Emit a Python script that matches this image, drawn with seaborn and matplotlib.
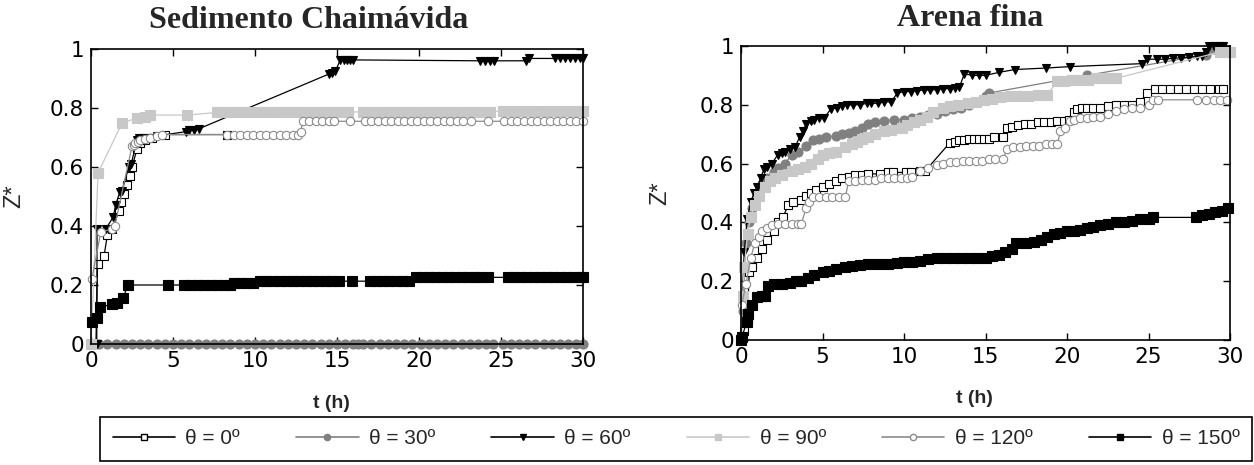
import matplotlib
matplotlib.use("Agg")
import matplotlib.pyplot as plt
from matplotlib.lines import Line2D
import seaborn as sns

# ---- Sedimento Chaimávida (left panel) ----
t0_L = [0.3, 0.4, 0.8, 1.0, 1.3, 1.7, 1.8, 2.0, 2.2, 2.4, 2.5, 2.8, 3.0, 3.3, 3.7, 4.5, 8.3]
z0_L = [0.0, 0.27, 0.30, 0.37, 0.39, 0.45, 0.48, 0.51, 0.54, 0.57, 0.60, 0.66, 0.68, 0.69, 0.70, 0.71, 0.71]

t30_L = [0.0, 0.5, 1.0, 1.5, 2.0, 2.5, 3.0, 3.5, 4.0, 4.5, 5.0, 5.5, 6.0, 6.5, 7.0, 7.5, 8.0, 8.5,
         9.0, 9.5, 10.0, 10.5, 11.0, 11.5, 12.0, 12.5, 13.0, 13.5, 14.0, 14.5, 15.0, 15.5, 16.0, 16.3,
         16.6, 17.1, 17.6, 18.1, 18.6, 19.1, 19.6, 20.1, 20.6, 21.1, 21.6, 22.1, 22.6, 23.1, 23.6, 24.1, 24.5,
         25.1, 25.6, 26.1, 26.6, 27.1, 27.6, 28.1, 28.6, 29.1, 29.6, 30.0]
z30_L = [0.0, 0.0, 0.0, 0.0, 0.0, 0.0, 0.0, 0.0, 0.0, 0.0, 0.0, 0.0, 0.0, 0.0, 0.0, 0.0, 0.0, 0.0,
         0.0, 0.0, 0.0, 0.0, 0.0, 0.0, 0.0, 0.0, 0.0, 0.0, 0.0, 0.0, 0.0, 0.0, 0.0, 0.0,
         0.0, 0.0, 0.0, 0.0, 0.0, 0.0, 0.0, 0.0, 0.0, 0.0, 0.0, 0.0, 0.0, 0.0, 0.0, 0.0, 0.0,
         0.0, 0.0, 0.0, 0.0, 0.0, 0.0, 0.0, 0.0, 0.0, 0.0, 0.0]

t60_L = [0.35, 0.37, 0.9, 1.35, 1.5, 1.75, 1.9, 2.3, 2.45, 2.8, 2.9, 3.1, 3.4, 3.7, 4.0, 5.8, 6.0, 6.3, 6.6,
         14.5, 14.7, 14.9, 15.2, 15.4, 15.6, 15.8, 16.0, 23.7, 24.0, 24.3, 24.6, 26.5, 26.7,
         28.3, 28.6, 28.9, 29.2, 29.5, 29.8, 30.0]
z60_L = [0.0, 0.39, 0.39, 0.43, 0.47, 0.515, 0.52, 0.60, 0.61, 0.69, 0.70, 0.70, 0.70, 0.70, 0.705, 0.72, 0.725, 0.725, 0.73,
         0.915, 0.918, 0.925, 0.963, 0.963, 0.963, 0.963, 0.963, 0.96, 0.96, 0.96, 0.96, 0.96, 0.968,
         0.968, 0.968, 0.968, 0.968, 0.968, 0.968, 0.968]

t90_L = [0.0, 0.43, 1.9, 2.8, 3.3, 3.6, 5.85, 7.7, 8.2, 8.7, 9.2, 9.7, 10.2, 10.7, 11.2, 11.7, 12.2, 12.7,
         13.2, 13.7, 14.2, 14.7, 15.2, 15.7, 16.6, 17.1, 17.6, 18.1, 18.6, 19.1, 19.6, 20.1, 20.6, 21.1,
         21.6, 22.1, 22.6, 23.1, 23.6, 24.1, 24.3, 25.1, 25.6, 26.1, 26.6, 27.1, 27.6, 28.1, 28.6, 29.1, 29.6, 30.0]
z90_L = [0.0, 0.58, 0.75, 0.765, 0.77, 0.776, 0.776, 0.785, 0.785, 0.785, 0.785, 0.785, 0.785, 0.785, 0.785,
         0.785, 0.785, 0.785, 0.785, 0.785, 0.785, 0.785, 0.785, 0.785, 0.788, 0.788, 0.788, 0.788, 0.788,
         0.788, 0.788, 0.788, 0.788, 0.788, 0.788, 0.788, 0.788, 0.788, 0.788, 0.788, 0.788, 0.79, 0.79,
         0.79, 0.79, 0.79, 0.79, 0.79, 0.79, 0.79, 0.79, 0.79]

t120_L = [0.05, 0.6, 1.3, 1.45, 2.5, 2.6, 2.7, 2.85, 3.0, 3.3, 3.6, 4.0, 4.3, 8.3, 8.7, 9.1, 9.5, 9.9,
          10.3, 10.7, 11.1, 11.5, 11.9, 12.3, 12.6, 12.8, 12.9, 13.3, 13.7, 14.1, 14.5, 14.8, 15.8,
          16.7, 17.1, 17.5, 17.9, 18.3, 18.7, 19.1, 19.5, 19.9, 20.3, 20.7, 21.1, 21.5, 21.9, 22.3, 22.7,
          23.2, 24.2, 25.2, 25.6, 26.0, 26.4, 26.8, 27.2, 27.6, 28.0, 28.4, 28.8, 29.2, 29.6, 30.0]
z120_L = [0.22, 0.38, 0.39, 0.40, 0.67, 0.675, 0.68, 0.685, 0.69, 0.695, 0.70, 0.705, 0.71, 0.71, 0.71, 0.71,
          0.71, 0.71, 0.71, 0.71, 0.71, 0.71, 0.71, 0.71, 0.71, 0.72, 0.755, 0.755, 0.755, 0.755, 0.755,
          0.755, 0.755, 0.755, 0.755, 0.755, 0.755, 0.755, 0.755, 0.755, 0.755, 0.755, 0.755, 0.755,
          0.755, 0.755, 0.755, 0.755, 0.755, 0.755, 0.755, 0.755, 0.755, 0.755, 0.755, 0.755, 0.755,
          0.755, 0.755, 0.755, 0.755, 0.755, 0.755, 0.755]

t150_L = [0.06, 0.37, 0.55, 1.3, 1.6, 1.95, 2.25, 4.7, 5.7, 6.1, 6.5, 6.9, 7.3, 7.7, 8.1, 8.5, 8.7,
          9.1, 9.5, 9.9, 10.3, 10.7, 11.1, 11.5, 11.9, 12.3, 12.7, 13.1, 13.5, 13.9, 14.3, 14.7, 15.1,
          15.9, 17.0, 17.4, 17.8, 18.2, 18.6, 19.0, 19.4, 19.8, 20.2, 20.6, 21.0, 21.4, 21.8, 22.2,
          22.6, 23.0, 23.4, 23.7, 24.2, 25.4, 25.8, 26.2, 26.6, 27.0, 27.4, 27.8, 28.2, 28.6, 29.0,
          29.4, 29.8, 30.0]
z150_L = [0.075, 0.088, 0.125, 0.135, 0.14, 0.155, 0.20, 0.20, 0.20, 0.20, 0.20, 0.20, 0.20, 0.20, 0.20,
          0.20, 0.207, 0.207, 0.207, 0.207, 0.213, 0.213, 0.213, 0.213, 0.213, 0.213, 0.213, 0.213,
          0.213, 0.213, 0.213, 0.213, 0.213, 0.213, 0.213, 0.213, 0.213, 0.213, 0.213, 0.213, 0.213,
          0.226, 0.226, 0.226, 0.226, 0.226, 0.226, 0.226, 0.226, 0.226, 0.226, 0.226, 0.226, 0.226,
          0.226, 0.226, 0.226, 0.226, 0.226, 0.226, 0.226, 0.226, 0.226, 0.226, 0.226, 0.226]

# ---- Arena fina (right panel) ----
t0_R = [0.0, 0.2, 0.4, 0.5, 0.7, 1.0, 1.3, 1.6, 2.0, 2.3, 2.6, 2.9, 3.2, 3.7, 4.0, 4.3, 4.6, 5.0, 5.4,
        5.8, 6.2, 6.6, 7.0, 7.4, 7.8, 8.5, 9.0, 9.3, 10.1, 10.4, 11.0, 11.3, 12.8, 13.1, 13.4, 13.7,
        14.0, 14.3, 14.6, 14.9, 15.2, 15.5, 16.1, 16.3, 16.6, 17.0, 17.4, 17.8, 18.2, 18.6, 19.0,
        19.4, 19.8, 20.1, 20.4, 20.6, 20.9, 21.2, 21.6, 22.0, 22.5, 23.0, 23.5, 24.0, 24.5, 24.9,
        25.4, 25.8, 26.3, 26.8, 27.3, 27.8, 28.3, 28.8, 29.3, 29.6]
z0_R = [0.0, 0.03, 0.07, 0.23, 0.25, 0.28, 0.31, 0.34, 0.37, 0.40, 0.42, 0.46, 0.47, 0.475, 0.49, 0.50,
        0.51, 0.52, 0.53, 0.54, 0.55, 0.555, 0.56, 0.56, 0.565, 0.565, 0.57, 0.57, 0.57, 0.57, 0.575,
        0.575, 0.67, 0.675, 0.68, 0.68, 0.685, 0.685, 0.685, 0.685, 0.685, 0.69, 0.69, 0.72, 0.725,
        0.73, 0.735, 0.735, 0.74, 0.74, 0.74, 0.745, 0.745, 0.75, 0.775, 0.785, 0.79, 0.79, 0.79,
        0.79, 0.795, 0.80, 0.80, 0.80, 0.81, 0.84, 0.855, 0.855, 0.855, 0.855, 0.855, 0.855, 0.855,
        0.855, 0.855, 0.855]

t30_R = [0.0, 0.1, 0.3, 0.5, 0.7, 1.0, 1.3, 1.6, 2.0, 2.3, 2.7, 3.1, 3.5, 4.0, 4.4, 4.8, 5.2, 5.8, 6.2,
         6.6, 7.0, 7.4, 7.8, 8.2, 8.8, 9.4, 10.0, 10.5, 11.0, 11.5, 12.0, 12.5, 13.0, 13.5, 14.0, 14.5,
         15.0, 15.2, 21.2, 28.5, 29.0, 29.5]
z30_R = [0.0, 0.10, 0.33, 0.40, 0.45, 0.50, 0.53, 0.55, 0.57, 0.585, 0.60, 0.63, 0.64, 0.66, 0.68,
         0.685, 0.69, 0.695, 0.70, 0.705, 0.71, 0.72, 0.735, 0.74, 0.745, 0.75, 0.75, 0.755, 0.76,
         0.765, 0.77, 0.78, 0.785, 0.79, 0.80, 0.81, 0.83, 0.84, 0.90, 0.97, 0.99, 0.995]

t60_R = [0.0, 0.05, 0.2, 0.37, 0.6, 0.8, 1.0, 1.2, 1.4, 1.6, 1.9, 2.25, 2.5, 2.7, 3.0, 3.3, 3.6, 3.8,
         4.0, 4.3, 4.5, 4.8, 5.1, 5.5, 5.9, 6.2, 6.5, 6.9, 7.3, 7.7, 8.0, 8.4, 8.8, 9.2, 9.6, 10.0,
         10.4, 10.8, 11.2, 11.6, 12.0, 12.4, 12.8, 13.1, 13.4, 13.7, 14.2, 14.6, 15.0, 15.8, 16.8,
         18.7, 20.2, 24.6, 24.9, 25.5, 26.0, 26.5, 27.0, 27.5, 28.0, 28.3, 28.5, 28.7, 29.0, 29.3, 29.6]
z60_R = [0.0, 0.11, 0.30, 0.41, 0.47, 0.50, 0.52, 0.55, 0.58, 0.59, 0.60, 0.63, 0.635, 0.64, 0.65,
         0.655, 0.69, 0.71, 0.735, 0.745, 0.75, 0.755, 0.755, 0.785, 0.79, 0.795, 0.80, 0.80, 0.80,
         0.805, 0.805, 0.805, 0.81, 0.81, 0.84, 0.845, 0.845, 0.848, 0.85, 0.85, 0.852, 0.855, 0.855,
         0.858, 0.86, 0.905, 0.90, 0.90, 0.90, 0.91, 0.92, 0.925, 0.93, 0.94, 0.955, 0.955, 0.955,
         0.958, 0.96, 0.962, 0.965, 0.967, 0.98, 1.0, 1.0, 1.0, 1.0]

t90_R = [0.0, 0.1, 0.2, 0.4, 0.6, 0.85, 1.1, 1.5, 1.8, 2.1, 2.5, 3.1, 3.5, 3.9, 4.3, 4.7, 5.0, 5.4, 5.8,
         6.4, 6.8, 7.1, 7.4, 7.8, 8.2, 8.8, 9.2, 9.9, 10.2, 10.6, 11.0, 11.4, 11.8, 12.4, 12.8, 13.3,
         13.9, 14.4, 14.9, 15.4, 15.9, 16.5, 17.0, 17.6, 18.2, 18.8, 19.4, 19.8, 20.3, 20.8, 21.3,
         21.8, 22.3, 22.7, 23.0, 29.4, 29.8, 30.0]
z90_R = [0.0, 0.15, 0.25, 0.36, 0.42, 0.46, 0.49, 0.52, 0.54, 0.55, 0.56, 0.575, 0.58, 0.59, 0.60,
         0.615, 0.63, 0.635, 0.64, 0.655, 0.665, 0.675, 0.685, 0.69, 0.70, 0.71, 0.715, 0.72, 0.73,
         0.74, 0.75, 0.76, 0.775, 0.79, 0.795, 0.80, 0.805, 0.81, 0.815, 0.82, 0.825, 0.83, 0.83,
         0.83, 0.835, 0.835, 0.88, 0.88, 0.885, 0.885, 0.885, 0.89, 0.89, 0.89, 0.89, 0.98, 0.98, 0.98]

t120_R = [0.0, 0.05, 0.3, 0.6, 0.85, 1.1, 1.3, 1.6, 1.9, 2.3, 2.7, 3.1, 3.5, 3.7, 4.0, 4.2, 4.4, 4.8,
          5.2, 5.6, 6.0, 6.4, 6.6, 7.0, 7.4, 7.8, 8.2, 8.6, 9.0, 9.4, 9.8, 10.2, 10.5, 11.0, 11.5,
          12.0, 12.4, 12.8, 13.2, 13.6, 14.0, 14.4, 14.8, 15.2, 15.6, 16.1, 16.3, 16.7, 17.1, 17.5,
          17.9, 18.3, 18.7, 19.1, 19.4, 19.6, 19.9, 20.2, 20.4, 20.8, 21.2, 21.6, 22.0, 22.5, 23.0,
          23.5, 24.0, 24.5, 25.0, 25.3, 25.6, 28.0, 28.5, 29.0, 29.4, 29.8]
z120_R = [0.0, 0.12, 0.19, 0.28, 0.33, 0.35, 0.37, 0.38, 0.39, 0.395, 0.395, 0.395, 0.395, 0.395,
          0.45, 0.47, 0.485, 0.485, 0.485, 0.485, 0.485, 0.485, 0.54, 0.54, 0.545, 0.545, 0.545,
          0.55, 0.55, 0.55, 0.55, 0.55, 0.555, 0.575, 0.585, 0.595, 0.60, 0.605, 0.605, 0.61, 0.61,
          0.61, 0.61, 0.615, 0.615, 0.615, 0.65, 0.655, 0.655, 0.66, 0.66, 0.66, 0.665, 0.665, 0.665,
          0.71, 0.72, 0.745, 0.75, 0.755, 0.755, 0.76, 0.76, 0.77, 0.78, 0.785, 0.79, 0.79, 0.80,
          0.815, 0.817, 0.817, 0.817, 0.817, 0.817, 0.817]

t150_R = [0.0, 0.05, 0.35, 0.45, 0.7, 1.0, 1.3, 1.5, 1.65, 2.0, 2.5, 3.0, 3.4, 3.7, 4.1, 4.5, 5.0, 5.4,
          5.8, 6.4, 6.8, 7.3, 7.8, 8.4, 9.0, 9.6, 10.0, 10.5, 11.0, 11.5, 12.0, 12.5, 13.0, 13.5, 14.0,
          14.5, 15.0, 15.4, 15.8, 16.2, 16.6, 16.9, 17.5, 18.0, 18.4, 18.8, 19.2, 19.6, 20.0, 20.4,
          20.8, 21.2, 21.6, 22.0, 22.5, 23.0, 23.5, 24.0, 24.5, 25.0, 25.3, 27.9, 28.3, 28.7, 29.1,
          29.5, 29.9]
z150_R = [0.0, 0.01, 0.06, 0.09, 0.12, 0.145, 0.15, 0.15, 0.185, 0.19, 0.19, 0.195, 0.20, 0.20, 0.21,
          0.22, 0.23, 0.235, 0.24, 0.25, 0.252, 0.255, 0.26, 0.26, 0.26, 0.263, 0.265, 0.265, 0.27,
          0.275, 0.28, 0.28, 0.28, 0.28, 0.28, 0.28, 0.28, 0.285, 0.29, 0.30, 0.31, 0.33, 0.33, 0.335,
          0.34, 0.35, 0.36, 0.365, 0.37, 0.37, 0.375, 0.38, 0.385, 0.39, 0.395, 0.40, 0.40, 0.405,
          0.41, 0.41, 0.417, 0.417, 0.425, 0.43, 0.435, 0.44, 0.45]

labels = ["θ = 0º", "θ = 30º", "θ = 60º", "θ = 90º", "θ = 120º", "θ = 150º"]
xticks = [0, 5, 10, 15, 20, 25, 30]
yticks = [0, 0.2, 0.4, 0.6, 0.8, 1]
ytick_labels = ["0", "0.2", "0.4", "0.6", "0.8", "1"]

# line colour, marker, face colour, edge colour, marker size
styles = [
    ("black",   "s", "white",   "black",   6.0),
    ("#808080", "o", "#808080", "#808080", 6.5),
    ("black",   "v", "black",   "black",   5.5),
    ("#c8c8c8", "s", "#c8c8c8", "#c8c8c8", 6.5),
    ("#8c8c8c", "o", "white",   "#8c8c8c", 6.0),
    ("black",   "s", "black",   "black",   7.0),
]

sns.set_style("ticks")
plt.rcParams['font.family'] = ['DejaVu Sans']

fig = plt.figure(figsize=(12.54, 4.65), dpi=100)
axL = fig.add_axes([91/1254, 1-344/465, 492/1254, 295/465])
axR = fig.add_axes([741/1254, 1-340/465, 489/1254, 294/465])

left_data = [(t0_L, z0_L), (t30_L, z30_L), (t60_L, z60_L), (t90_L, z90_L), (t120_L, z120_L), (t150_L, z150_L)]
right_data = [(t0_R, z0_R), (t30_R, z30_R), (t60_R, z60_R), (t90_R, z90_R), (t120_R, z120_R), (t150_R, z150_R)]

for ax, data in [(axL, left_data), (axR, right_data)]:
    for (t, z), (lc, mk, fc, ec, ms) in zip(data, styles):
        sns.lineplot(x=t, y=z, ax=ax, color=lc, marker=mk, markersize=ms,
                     markerfacecolor=fc, markeredgecolor=ec, markeredgewidth=0.8,
                     linewidth=0.9, estimator=None, sort=False, legend=False, clip_on=False)
    ax.set_xlim(0, 30)
    ax.set_ylim(0, 1)
    ax.set_xticks(xticks)
    ax.set_xticklabels([str(v) for v in xticks])
    ax.set_yticks(yticks)
    ax.set_yticklabels(ytick_labels)
    ax.tick_params(direction='in', top=True, right=True, length=5, width=1,
                   labelsize=15.5, colors='black', pad=5)
    for sp in ax.spines.values():
        sp.set_color('black')
        sp.set_linewidth(1.2)
    ax.set_xlabel("t (h)", fontsize=14, fontweight='bold', family='Liberation Sans')
    ax.set_ylabel("Z*", fontsize=17, family='Liberation Sans')

axL.xaxis.set_label_coords(0.488, -0.173)
axR.xaxis.set_label_coords(0.478, -0.17)
axL.yaxis.set_label_coords(-0.134, 0.5)
axR.yaxis.set_label_coords(-0.143, 0.5)

fig.text(309/1254, 1-21/465, "Sedimento Chaimávida", ha='center', va='center',
         fontsize=23, fontweight='bold', family='Liberation Serif')
fig.text(970/1254, 1-19/465, "Arena fina", ha='center', va='center',
         fontsize=23, fontweight='bold', family='Liberation Serif')

handles = [Line2D([], [], color=lc, marker=mk, markersize=4.5, markerfacecolor=fc,
                  markeredgecolor=ec, linewidth=1.2)
           for (lc, mk, fc, ec, ms) in styles]
leg = fig.legend(handles, labels, loc='upper left', ncol=6, mode='expand',
                 bbox_to_anchor=(100/1254, 1-417/465, 1152/1254, 0), borderaxespad=0,
                 frameon=True, fancybox=False, edgecolor='black', framealpha=1,
                 handlelength=3.0, handletextpad=0.5, columnspacing=0.6, borderpad=0.6,
                 prop={'family': 'Liberation Sans', 'size': 15})
leg.get_frame().set_linewidth(1.2)

fig.savefig("out.png", dpi=100)
